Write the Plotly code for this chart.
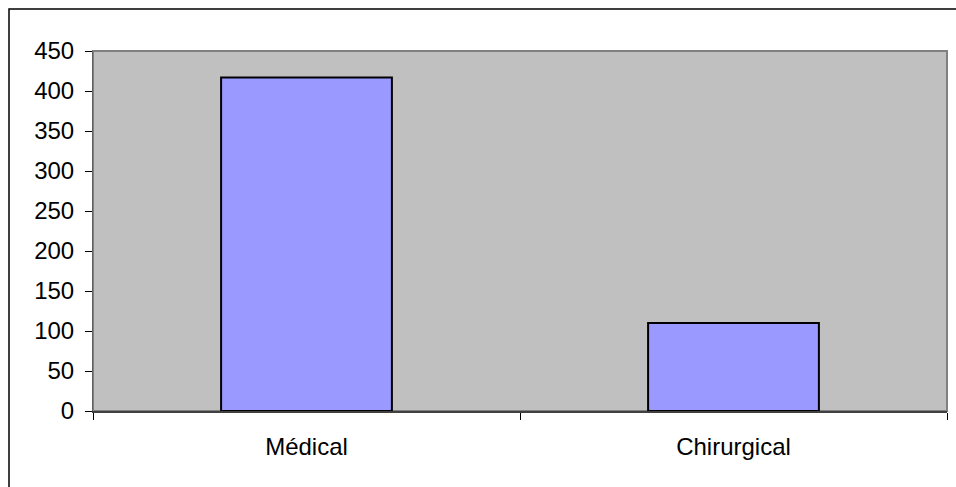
import plotly.graph_objects as go

# Admissions by service type
categories = ["Médical", "Chirurgical"]
values = [417, 110]
y_ticks = [0, 50, 100, 150, 200, 250, 300, 350, 400, 450]

W, H = 956, 487
ML, MR, MT, MB = 93, 9, 51, 76

fig = go.Figure(
    go.Bar(
        x=categories,
        y=values,
        width=0.4,
        marker=dict(color="#9999FF", line=dict(color="#000000", width=2)),
    )
)

font = dict(family="Liberation Sans, Arial, sans-serif", size=24, color="#000000")

fig.update_layout(
    width=W,
    height=H,
    margin=dict(l=ML, r=MR, t=MT, b=MB, pad=0),
    paper_bgcolor="#FFFFFF",
    plot_bgcolor="#C0C0C0",
    font=font,
    showlegend=False,
    bargap=0.6,
    xaxis=dict(
        type="category",
        range=[-0.5, 1.5],
        tickson="boundaries",
        ticks="outside",
        ticklen=7,
        tickwidth=1,
        tickcolor="#000000",
        showline=True,
        linecolor="#404040",
        linewidth=2,
        showgrid=False,
        zeroline=False,
        tickfont=dict(size=24),
        ticklabelstandoff=13,
    ),
    yaxis=dict(
        range=[0, 450],
        tickvals=y_ticks,
        ticks="outside",
        ticklen=7,
        tickwidth=1,
        tickcolor="#000000",
        showline=True,
        linecolor="#606060",
        linewidth=1,
        showgrid=False,
        zeroline=False,
        tickfont=dict(size=24),
        ticklabelstandoff=6,
    ),
)

# Gray border around the plotting area (top and right edges)
fig.add_shape(
    type="rect", xref="paper", yref="paper",
    x0=0, x1=1, y0=0, y1=1,
    line=dict(color="#808080", width=2), layer="below",
)

# Chart frame, extending past the right and bottom of the page
pw = W - ML - MR
ph = H - MT - MB
fig.add_shape(
    type="rect", xref="paper", yref="paper",
    x0=(9 - ML) / pw, x1=(W + 20 - ML) / pw,
    y0=-(H + 20 - MT - ph) / ph, y1=(H - 9 - MB) / ph,
    line=dict(color="#000000", width=1.5), layer="above",
)

fig.write_html("out.html")
